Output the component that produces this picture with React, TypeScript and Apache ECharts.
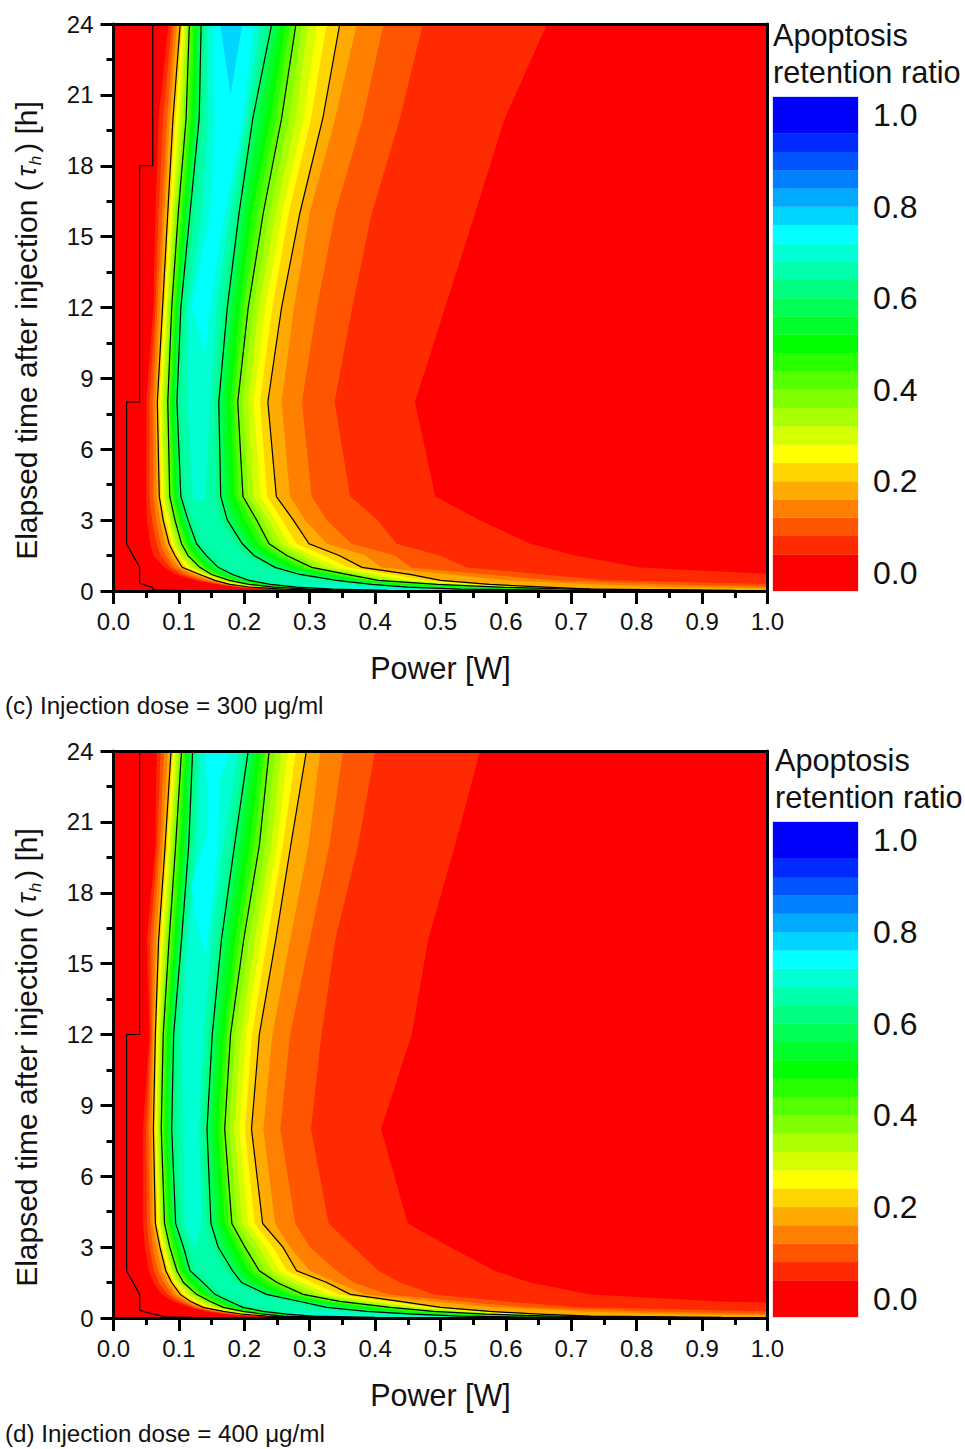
import React, { useEffect, useRef } from "react";
import * as echarts from "echarts";

const LEVELS = [0.04, 0.08, 0.12, 0.16, 0.2, 0.24, 0.28, 0.32, 0.36, 0.4, 0.44, 0.48, 0.52, 0.56, 0.6, 0.64];
const BAND_COLORS = ["#ff0000", "#ff2a00", "#ff5500", "#ff8000", "#ffaa00", "#ffd500", "#ffff00", "#d5ff00", "#aaff00", "#80ff00", "#55ff00", "#2aff00", "#00ff00", "#00ff2a", "#00ff55", "#00ff80", "#00ffaa", "#00ffd5", "#00ffff", "#00d5ff", "#00aaff", "#0080ff", "#0055ff", "#002aff", "#0000ff"];
const BAND_EDGES = [-0.04, 0.04, 0.08, 0.12, 0.16, 0.2, 0.24, 0.28, 0.32, 0.36, 0.4, 0.44, 0.48, 0.52, 0.56, 0.6, 0.64, 0.68, 0.72, 0.76, 0.8, 0.84, 0.88, 0.92, 0.96, 1.04];
const BAR_LABELS = [0, 0.2, 0.4, 0.6, 0.8, 1];
const TIMES = [24, 20, 16, 12, 8, 4, 3, 2, 1.5, 1, 0.7, 0.45, 0.28, 0.16, 0.08, 0.03];

const C_LEFT = [
  [0.084, 0.089, 0.093, 0.097, 0.102, 0.105, 0.108, 0.111, 0.113, 0.116, 0.12, 0.124, 0.127, 0.13, 0.134, 0.139],
  [0.069, 0.076, 0.082, 0.086, 0.091, 0.095, 0.099, 0.103, 0.107, 0.111, 0.115, 0.119, 0.123, 0.127, 0.131, 0.136],
  [0.064, 0.069, 0.074, 0.078, 0.083, 0.086, 0.089, 0.092, 0.095, 0.099, 0.103, 0.107, 0.11, 0.113, 0.117, 0.123],
  [0.061, 0.064, 0.067, 0.071, 0.075, 0.078, 0.081, 0.083, 0.086, 0.089, 0.092, 0.095, 0.098, 0.1, 0.103, 0.109],
  [0.05, 0.055, 0.06, 0.064, 0.067, 0.07, 0.073, 0.076, 0.08, 0.083, 0.086, 0.089, 0.091, 0.094, 0.097, 0.102],
  [0.05, 0.055, 0.061, 0.066, 0.07, 0.073, 0.076, 0.079, 0.083, 0.086, 0.09, 0.093, 0.096, 0.1, 0.103, 0.109],
  [0.051, 0.059, 0.065, 0.071, 0.076, 0.08, 0.084, 0.087, 0.09, 0.094, 0.098, 0.102, 0.105, 0.11, 0.114, 0.12],
  [0.056, 0.066, 0.072, 0.079, 0.085, 0.089, 0.092, 0.096, 0.1, 0.104, 0.109, 0.113, 0.118, 0.122, 0.127, 0.134],
  [0.061, 0.072, 0.08, 0.087, 0.094, 0.098, 0.102, 0.105, 0.11, 0.114, 0.12, 0.125, 0.13, 0.136, 0.142, 0.15],
  [0.078, 0.087, 0.094, 0.1, 0.105, 0.111, 0.116, 0.121, 0.126, 0.132, 0.138, 0.143, 0.149, 0.154, 0.16, 0.169],
  [0.095, 0.105, 0.113, 0.123, 0.132, 0.136, 0.14, 0.143, 0.147, 0.15, 0.156, 0.162, 0.168, 0.175, 0.182, 0.192],
  [0.125, 0.133, 0.141, 0.148, 0.155, 0.16, 0.164, 0.168, 0.172, 0.177, 0.183, 0.189, 0.194, 0.2, 0.207, 0.218],
  [0.16, 0.165, 0.17, 0.174, 0.178, 0.184, 0.19, 0.195, 0.201, 0.207, 0.213, 0.22, 0.226, 0.233, 0.24, 0.252],
  [0.19, 0.194, 0.198, 0.204, 0.21, 0.217, 0.224, 0.231, 0.238, 0.245, 0.252, 0.259, 0.266, 0.273, 0.28, 0.295],
  [0.24, 0.245, 0.25, 0.255, 0.26, 0.268, 0.276, 0.284, 0.292, 0.3, 0.307, 0.314, 0.321, 0.328, 0.335, 0.35],
  [0.31, 0.315, 0.32, 0.325, 0.33, 0.34, 0.35, 0.36, 0.37, 0.38, 0.39, 0.4, 0.41, 0.415, 0.42, 0.44],
];
const C_RIGHT = [
  [0.663, 0.473, 0.413, 0.372, 0.346, 0.326, 0.311, 0.297, 0.288, 0.279, 0.27, 0.263, 0.256, 0.249, 0.242, 0.234],
  [0.598, 0.438, 0.381, 0.339, 0.32, 0.302, 0.291, 0.279, 0.268, 0.257, 0.248, 0.24, 0.232, 0.222, 0.213, 0.208],
  [0.553, 0.395, 0.339, 0.3, 0.285, 0.268, 0.258, 0.248, 0.238, 0.229, 0.22, 0.212, 0.206, 0.199, 0.192, 0.186],
  [0.507, 0.365, 0.311, 0.276, 0.257, 0.243, 0.232, 0.222, 0.214, 0.206, 0.199, 0.193, 0.187, 0.18, 0.174, 0.167],
  [0.461, 0.338, 0.288, 0.257, 0.236, 0.224, 0.214, 0.206, 0.197, 0.19, 0.184, 0.179, 0.173, 0.167, 0.161, 0.155],
  [0.492, 0.362, 0.303, 0.27, 0.249, 0.235, 0.225, 0.214, 0.206, 0.198, 0.191, 0.185, 0.178, 0.171, 0.164, 0.156],
  [0.56, 0.404, 0.326, 0.293, 0.275, 0.258, 0.247, 0.237, 0.228, 0.219, 0.21, 0.201, 0.193, 0.184, 0.174, 0.165],
  [0.637, 0.433, 0.364, 0.326, 0.299, 0.28, 0.268, 0.257, 0.247, 0.238, 0.229, 0.221, 0.214, 0.205, 0.197, 0.187],
  [0.706, 0.499, 0.43, 0.385, 0.345, 0.322, 0.304, 0.29, 0.277, 0.265, 0.255, 0.245, 0.235, 0.225, 0.215, 0.203],
  [0.805, 0.54, 0.455, 0.41, 0.38, 0.359, 0.342, 0.327, 0.314, 0.303, 0.292, 0.282, 0.271, 0.26, 0.247, 0.235],
  [1.02, 0.657, 0.57, 0.515, 0.453, 0.425, 0.405, 0.388, 0.372, 0.357, 0.345, 0.332, 0.319, 0.302, 0.285, 0.27],
  [1.3, 0.75, 0.67, 0.6, 0.5, 0.475, 0.455, 0.437, 0.42, 0.405, 0.392, 0.38, 0.367, 0.355, 0.341, 0.325],
  [1.7, 1.03, 0.85, 0.74, 0.575, 0.555, 0.54, 0.525, 0.51, 0.495, 0.475, 0.455, 0.435, 0.415, 0.395, 0.375],
  [2.2, 1.4, 1.05, 0.88, 0.66, 0.645, 0.63, 0.615, 0.6, 0.59, 0.57, 0.55, 0.53, 0.49, 0.45, 0.425],
  [3, 2, 1.5, 1.1, 0.73, 0.725, 0.72, 0.71, 0.705, 0.7, 0.67, 0.64, 0.6, 0.565, 0.53, 0.5],
  [4, 3, 2.2, 1.6, 0.95, 0.94, 0.93, 0.92, 0.91, 0.9, 0.87, 0.84, 0.8, 0.74, 0.68, 0.65],
];
const C_ISLANDS = [
  { level: 0.68, pts: [[0.143, 24], [0.224, 24], [0.203, 20], [0.178, 16], [0.158, 12], [0.148, 8], [0.14, 3.8], [0.122, 3.8], [0.113, 8], [0.114, 12], [0.135, 16], [0.145, 20]] },
  { level: 0.68, pts: [[0.27, 0.28], [0.35, 0.28], [0.4, 0.16], [0.47, 0.08], [0.62, 0.03], [0.45, 0.03], [0.37, 0.08], [0.31, 0.16]] },
  { level: 0.72, pts: [[0.152, 24], [0.214, 24], [0.198, 20], [0.1705, 16], [0.1476, 12], [0.14, 10.1], [0.1196, 12], [0.1476, 16], [0.155, 20]] },
  { level: 0.76, pts: [[0.163, 24], [0.197, 24], [0.179, 21]] },
];
const C_LOW_LINE = [[0.06, 24], [0.06, 18], [0.04, 18], [0.04, 8], [0.02, 8], [0.02, 2], [0.04, 1], [0.04, 0.33], [0.06, 0.15], [0.06, 0.05], [0.12, 0.01]];

const D_LEFT = [
  [0.066, 0.072, 0.077, 0.083, 0.088, 0.091, 0.094, 0.097, 0.1, 0.104, 0.107, 0.11, 0.113, 0.117, 0.121, 0.127],
  [0.064, 0.067, 0.071, 0.075, 0.079, 0.082, 0.085, 0.088, 0.091, 0.095, 0.099, 0.103, 0.107, 0.111, 0.115, 0.121],
  [0.051, 0.056, 0.06, 0.065, 0.069, 0.072, 0.075, 0.078, 0.081, 0.085, 0.089, 0.093, 0.096, 0.1, 0.104, 0.108],
  [0.055, 0.057, 0.059, 0.061, 0.064, 0.066, 0.068, 0.071, 0.073, 0.076, 0.079, 0.082, 0.085, 0.088, 0.092, 0.098],
  [0.045, 0.05, 0.054, 0.058, 0.061, 0.064, 0.066, 0.068, 0.07, 0.073, 0.076, 0.079, 0.082, 0.085, 0.089, 0.096],
  [0.045, 0.051, 0.056, 0.06, 0.064, 0.067, 0.07, 0.072, 0.075, 0.078, 0.081, 0.085, 0.088, 0.091, 0.095, 0.102],
  [0.048, 0.055, 0.06, 0.066, 0.071, 0.074, 0.077, 0.08, 0.083, 0.086, 0.09, 0.095, 0.099, 0.103, 0.107, 0.113],
  [0.054, 0.062, 0.068, 0.074, 0.08, 0.084, 0.087, 0.09, 0.093, 0.097, 0.101, 0.105, 0.109, 0.113, 0.117, 0.125],
  [0.061, 0.069, 0.077, 0.083, 0.089, 0.093, 0.096, 0.1, 0.103, 0.107, 0.113, 0.119, 0.125, 0.131, 0.137, 0.147],
  [0.074, 0.083, 0.09, 0.096, 0.102, 0.107, 0.112, 0.117, 0.122, 0.127, 0.133, 0.138, 0.144, 0.149, 0.155, 0.165],
  [0.092, 0.1, 0.107, 0.113, 0.118, 0.124, 0.13, 0.136, 0.142, 0.148, 0.154, 0.16, 0.166, 0.172, 0.178, 0.189],
  [0.117, 0.122, 0.127, 0.132, 0.137, 0.143, 0.149, 0.155, 0.161, 0.168, 0.174, 0.18, 0.186, 0.192, 0.198, 0.21],
  [0.142, 0.149, 0.155, 0.162, 0.168, 0.174, 0.18, 0.186, 0.192, 0.198, 0.204, 0.21, 0.216, 0.222, 0.229, 0.243],
  [0.175, 0.181, 0.186, 0.192, 0.198, 0.204, 0.21, 0.216, 0.222, 0.229, 0.236, 0.243, 0.25, 0.257, 0.265, 0.28],
  [0.219, 0.222, 0.226, 0.23, 0.234, 0.239, 0.244, 0.249, 0.254, 0.26, 0.269, 0.278, 0.287, 0.296, 0.306, 0.325],
  [0.28, 0.285, 0.29, 0.295, 0.3, 0.31, 0.32, 0.33, 0.335, 0.34, 0.35, 0.36, 0.37, 0.385, 0.4, 0.42],
];
const D_RIGHT = [
  [0.5605, 0.4, 0.351, 0.316, 0.295, 0.279, 0.267, 0.257, 0.247, 0.238, 0.231, 0.225, 0.219, 0.212, 0.206, 0.2],
  [0.522, 0.374, 0.33, 0.298, 0.271, 0.259, 0.25, 0.241, 0.232, 0.223, 0.215, 0.208, 0.2, 0.192, 0.185, 0.179],
  [0.481, 0.339, 0.3, 0.27, 0.248, 0.235, 0.225, 0.216, 0.207, 0.199, 0.192, 0.186, 0.18, 0.172, 0.165, 0.159],
  [0.456, 0.318, 0.27, 0.243, 0.223, 0.212, 0.203, 0.195, 0.186, 0.179, 0.174, 0.169, 0.164, 0.157, 0.151, 0.145],
  [0.409, 0.302, 0.255, 0.229, 0.211, 0.201, 0.192, 0.184, 0.177, 0.17, 0.165, 0.16, 0.155, 0.149, 0.143, 0.136],
  [0.45, 0.329, 0.278, 0.247, 0.228, 0.216, 0.206, 0.197, 0.189, 0.181, 0.176, 0.17, 0.164, 0.157, 0.149, 0.143],
  [0.515, 0.367, 0.3, 0.27, 0.259, 0.244, 0.233, 0.222, 0.212, 0.201, 0.194, 0.187, 0.18, 0.17, 0.16, 0.153],
  [0.583, 0.405, 0.341, 0.3, 0.28, 0.265, 0.253, 0.242, 0.232, 0.223, 0.214, 0.206, 0.198, 0.19, 0.182, 0.173],
  [0.637, 0.438, 0.367, 0.341, 0.326, 0.305, 0.288, 0.274, 0.261, 0.25, 0.238, 0.227, 0.216, 0.206, 0.196, 0.186],
  [0.729, 0.49, 0.42, 0.385, 0.362, 0.345, 0.33, 0.316, 0.303, 0.29, 0.278, 0.266, 0.255, 0.245, 0.234, 0.224],
  [0.927, 0.6, 0.53, 0.49, 0.438, 0.42, 0.4, 0.382, 0.364, 0.346, 0.333, 0.32, 0.308, 0.297, 0.285, 0.27],
  [1.3, 0.71, 0.63, 0.58, 0.5, 0.485, 0.47, 0.455, 0.44, 0.423, 0.405, 0.39, 0.372, 0.35, 0.326, 0.31],
  [1.7, 1, 0.82, 0.72, 0.575, 0.56, 0.545, 0.53, 0.51, 0.489, 0.47, 0.45, 0.43, 0.41, 0.387, 0.37],
  [2.2, 1.38, 1.03, 0.87, 0.65, 0.64, 0.625, 0.61, 0.59, 0.57, 0.55, 0.53, 0.505, 0.48, 0.458, 0.43],
  [3, 2, 1.5, 1.08, 0.73, 0.72, 0.71, 0.7, 0.685, 0.67, 0.65, 0.62, 0.59, 0.56, 0.53, 0.5],
  [4, 3, 2.2, 1.6, 0.93, 0.92, 0.91, 0.9, 0.88, 0.86, 0.84, 0.8, 0.76, 0.72, 0.67, 0.65],
];
const D_ISLANDS = [
  { level: 0.68, pts: [[0.132, 24], [0.191, 24], [0.168, 20], [0.15, 16], [0.138, 12], [0.13, 8], [0.1355, 4], [0.1246, 3], [0.109, 4], [0.1068, 8], [0.104, 12], [0.113, 16], [0.127, 20]] },
  { level: 0.68, pts: [[0.255, 0.28], [0.34, 0.28], [0.39, 0.16], [0.46, 0.08], [0.6, 0.03], [0.44, 0.03], [0.35, 0.08], [0.3, 0.16]] },
  { level: 0.72, pts: [[0.14, 24], [0.18, 24], [0.163, 22.9], [0.16, 20.2], [0.153, 18.1], [0.142, 15.7], [0.1415, 15.3], [0.1246, 17], [0.1195, 18.3], [0.132, 19.6], [0.1425, 20.3], [0.145, 21.7]] },
];
const D_LOW_LINE = [[0.04, 24], [0.04, 12], [0.02, 12], [0.02, 2], [0.04, 1], [0.04, 0.33], [0.06, 0.17], [0.08, 0.05], [0.14, 0.01]];

const LINE_LEVELS = [0.2, 0.4, 0.6];
const X_NAME = "Power [W]";
const Y_NAME = "{a|Elapsed time after injection (}{t|τ}{s|h}{a|) [h]}";
const BAR_TITLE = "Apoptosis\nretention ratio";
const CAPTIONS = ["(c) Injection dose = 300 μg/ml", "(d) Injection dose = 400 μg/ml"];

const FONT = "'Liberation Sans', Arial, sans-serif";

function bandColor(level: number) {
  const i = BAND_EDGES.findIndex((e) => Math.abs(e - level) < 1e-6);
  return BAND_COLORS[i];
}

function rowsPolygon(left: number[][], right: number[][], idx: number) {
  const l = TIMES.map((t, r) => [left[r][idx], t]);
  const rr = TIMES.map((t, r) => [right[r][idx], t]).reverse();
  return { l, rr };
}

function contourSeries(panel: number, left: number[][], right: number[][], islands: any[], lowLine: number[][]) {
  const polys: { fill: string; pts: number[][] }[] = [];
  LEVELS.forEach((lv, i) => {
    const { l, rr } = rowsPolygon(left, right, i);
    polys.push({ fill: bandColor(lv), pts: [...l, ...rr] });
  });
  islands.forEach((isl) => polys.push({ fill: bandColor(isl.level), pts: isl.pts }));
  const lines: number[][][] = [lowLine];
  LINE_LEVELS.forEach((lv) => {
    const i = LEVELS.findIndex((e) => Math.abs(e - lv) < 1e-6);
    const { l, rr } = rowsPolygon(left, right, i);
    lines.push(l);
    lines.push(rr);
  });
  return [
    {
      type: "custom",
      xAxisIndex: panel * 3,
      yAxisIndex: panel * 3,
      clip: true,
      silent: true,
      z: 2,
      data: polys.map((_, i) => [i, 0]),
      encode: { x: 0, y: 1 },
      renderItem: (p: any, api: any) => {
        const poly = polys[p.dataIndex];
        return {
          type: "polygon",
          shape: { points: poly.pts.map((q) => api.coord(q)) },
          style: { fill: poly.fill, stroke: null },
        };
      },
    },
    {
      type: "custom",
      xAxisIndex: panel * 3,
      yAxisIndex: panel * 3,
      clip: true,
      silent: true,
      z: 3,
      data: lines.map((_, i) => [i, 0]),
      encode: { x: 0, y: 1 },
      renderItem: (p: any, api: any) => ({
        type: "polyline",
        shape: { points: lines[p.dataIndex].map((q) => api.coord(q)) },
        style: { fill: null, stroke: "#000", lineWidth: 1.2 },
      }),
    },
  ];
}

function barSeries(axisIndex: number) {
  return {
    type: "custom",
    xAxisIndex: axisIndex,
    yAxisIndex: axisIndex,
    silent: true,
    data: BAND_COLORS.map((_, i) => [0, i]),
    encode: { x: 0, y: 1 },
    renderItem: (p: any, api: any) => {
      const i = p.dataIndex;
      const a = api.coord([0, BAND_EDGES[i]]);
      const b = api.coord([1, BAND_EDGES[i + 1]]);
      return {
        type: "rect",
        shape: { x: a[0], y: b[1], width: b[0] - a[0], height: a[1] - b[1] },
        style: { fill: BAND_COLORS[i], stroke: BAND_COLORS[i], lineWidth: 0.3 },
      };
    },
  };
}

const hiddenAxis = { show: false };

function plotAxes(grid: number) {
  const tick = { show: true, length: 13, inside: false, lineStyle: { color: "#000", width: 3 } };
  const minor = { show: true, splitNumber: 2, length: 7, lineStyle: { color: "#000", width: 3 } };
  const line = { show: true, onZero: false, lineStyle: { color: "#000", width: 3 } };
  const label = { color: "#111", fontFamily: FONT, fontSize: 24 };
  const x = [
    {
      type: "value", gridIndex: grid, min: 0, max: 1, interval: 0.1, position: "bottom", z: 6,
      name: X_NAME, nameLocation: "middle", nameGap: 61,
      nameTextStyle: { color: "#111", fontFamily: FONT, fontSize: 30.5 },
      axisLine: line, axisTick: tick, minorTick: minor, splitLine: { show: false },
      axisLabel: { ...label, margin: 18, formatter: (v: number) => v.toFixed(1) },
    },
    {
      type: "value", gridIndex: grid, min: 0, max: 1, position: "top", z: 6,
      axisLine: line, axisTick: { show: false }, axisLabel: { show: false }, splitLine: { show: false },
    },
  ];
  const y = [
    {
      type: "value", gridIndex: grid, min: 0, max: 24, interval: 3, position: "left", z: 6,
      name: Y_NAME, nameLocation: "middle", nameGap: 69, nameRotate: 90,
      nameTextStyle: {
        padding: [0, 46, 0, 0],
        rich: {
          a: { color: "#111", fontFamily: FONT, fontSize: 30, lineHeight: 36 },
          t: { color: "#111", fontFamily: FONT, fontStyle: "italic", fontSize: 27, lineHeight: 36, padding: [0, 1, 0, 5] },
          s: { color: "#111", fontFamily: FONT, fontStyle: "italic", fontSize: 17, lineHeight: 28, verticalAlign: "top", padding: [18, 3, 0, 0] },
        },
      },
      axisLine: line, axisTick: tick, minorTick: minor, splitLine: { show: false },
      axisLabel: { ...label, margin: 20 },
    },
    {
      type: "value", gridIndex: grid, min: 0, max: 24, position: "right", z: 6,
      axisLine: line, axisTick: { show: false }, axisLabel: { show: false }, splitLine: { show: false },
    },
  ];
  return { x, y };
}

function barAxes(grid: number) {
  return {
    x: [{ type: "value", gridIndex: grid, min: 0, max: 1, ...hiddenAxis }],
    y: [
      {
        type: "value", gridIndex: grid, min: -0.04, max: 1.04, position: "right",
        axisLine: { show: false }, axisTick: { show: false }, splitLine: { show: false },
        axisLabel: {
          color: "#111", fontFamily: FONT, fontSize: 32, margin: 15,
          customValues: BAR_LABELS, formatter: (v: number) => v.toFixed(1),
        },
      },
    ],
  };
}

export default function App() {
  const ref = useRef<HTMLDivElement>(null);
  useEffect(() => {
    const chart = echarts.init(ref.current!, null, { renderer: "svg" });
    const p1 = plotAxes(0);
    const b1 = barAxes(1);
    const p2 = plotAxes(2);
    const b2 = barAxes(3);
    // axis order: 0 plot c, 1 plot c (secondary), 2 bar c, 3 plot d, 4 plot d (secondary), 5 bar d
    const option: any = {
      animation: false,
      backgroundColor: "#fff",
      grid: [
        { left: 113.5, top: 24, width: 654, height: 567, show: true, backgroundColor: BAND_COLORS[0], borderWidth: 0, outerBoundsMode: "none" },
        { left: 773, top: 97, width: 85, height: 494, outerBoundsMode: "none" },
        { left: 113.5, top: 751, width: 654, height: 567, show: true, backgroundColor: BAND_COLORS[0], borderWidth: 0, outerBoundsMode: "none" },
        { left: 773, top: 822, width: 85, height: 495, outerBoundsMode: "none" },
      ],
      xAxis: [...p1.x, ...b1.x, ...p2.x, ...b2.x],
      yAxis: [...p1.y, ...b1.y, ...p2.y, ...b2.y],
      series: [
        ...contourSeries(0, C_LEFT, C_RIGHT, C_ISLANDS, C_LOW_LINE),
        barSeries(2),
        ...contourSeries(1, D_LEFT, D_RIGHT, D_ISLANDS, D_LOW_LINE),
        barSeries(5),
      ],
      graphic: [
        { type: "text", left: 773, top: 17, style: { text: BAR_TITLE, fill: "#111", font: `30.7px ${FONT}`, lineHeight: 37 } },
        { type: "text", left: 775, top: 742, style: { text: BAR_TITLE, fill: "#111", font: `30.7px ${FONT}`, lineHeight: 37 } },
        { type: "text", left: 5, top: 693, style: { text: CAPTIONS[0], fill: "#111", font: `24.2px ${FONT}` } },
        { type: "text", left: 5, top: 1421, style: { text: CAPTIONS[1], fill: "#111", font: `24.2px ${FONT}` } },
      ],
    };
    chart.setOption(option);
    return () => chart.dispose();
  }, []);
  return <div ref={ref} style={{ position: "absolute", left: 0, top: 0, width: 965, height: 1449 }} />;
}
